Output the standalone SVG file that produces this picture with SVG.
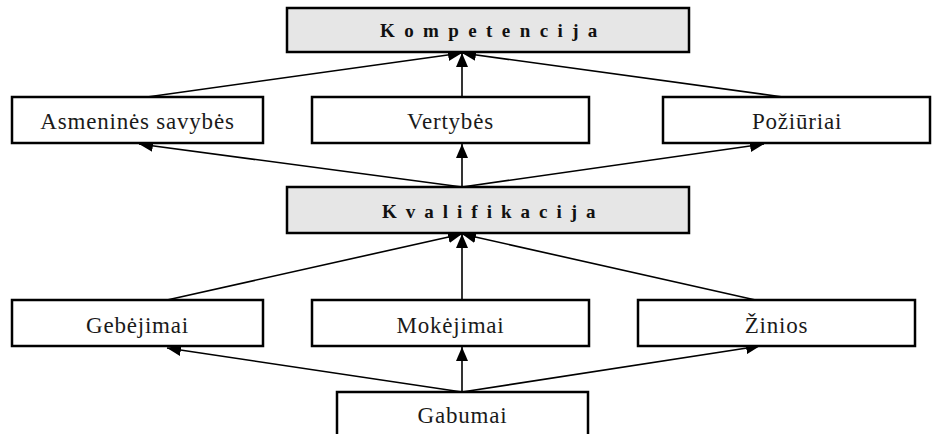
<svg xmlns="http://www.w3.org/2000/svg" width="933" height="434" viewBox="0 0 933 434">
<style>
  .box { fill: #ffffff; stroke: #000000; stroke-width: 2.5; }
  .gbox { fill: #e6e6e6; stroke: #000000; stroke-width: 2.5; }
  .lbl { font-family: "Liberation Serif", "Times New Roman", serif; font-size: 23px; fill: #1a1a1a; text-anchor: middle; letter-spacing: 0.8px; }
  .hdr { font-family: "Liberation Serif", "Times New Roman", serif; font-size: 19px; font-weight: bold; fill: #111111; }
  .conn line { stroke: #000000; stroke-width: 1.6; fill: none; marker-end: url(#arr); }
</style>
<defs>
  <marker id="arr" markerUnits="userSpaceOnUse" markerWidth="14" markerHeight="12" refX="14" refY="6" orient="auto">
    <path d="M0,0 L14,6 L0,12 z" fill="#000000"/>
  </marker>
</defs>
<rect width="933" height="434" fill="#ffffff"/>
<g class="conn" id="connectors">
  <line x1="147" y1="97" x2="462" y2="53"/>
  <line x1="462" y1="97" x2="462" y2="53"/>
  <line x1="783" y1="97" x2="462" y2="53"/>
  <line x1="462" y1="187" x2="139" y2="144"/>
  <line x1="462" y1="187" x2="462" y2="144"/>
  <line x1="462" y1="187" x2="764" y2="144"/>
  <line x1="167" y1="300" x2="462" y2="234"/>
  <line x1="462" y1="300" x2="462" y2="234"/>
  <line x1="760" y1="301" x2="462" y2="234"/>
  <line x1="462" y1="392" x2="167" y2="348"/>
  <line x1="462" y1="392" x2="462" y2="347"/>
  <line x1="462" y1="392" x2="760" y2="346"/>
</g>
<g id="kompetencija">
  <rect class="gbox" x="287" y="8" width="402" height="44"/>
  <text class="hdr" x="380" y="37" letter-spacing="9.4">Kompetencija</text>
</g>
<g id="asmenines">
  <rect class="box" x="12" y="97" width="251" height="46"/>
  <text class="lbl" x="137.5" y="129">Asmeninės savybės</text>
</g>
<g id="vertybes">
  <rect class="box" x="312" y="97" width="277" height="46"/>
  <text class="lbl" x="450.5" y="129">Vertybės</text>
</g>
<g id="poziuriai">
  <rect class="box" x="663" y="97" width="267" height="46"/>
  <text class="lbl" x="797" y="129">Požiūriai</text>
</g>
<g id="kvalifikacija">
  <rect class="gbox" x="287" y="187" width="402" height="46"/>
  <text class="hdr" x="382" y="218" letter-spacing="9">Kvalifikacija</text>
</g>
<g id="gebejimai">
  <rect class="box" x="12" y="300" width="251" height="46"/>
  <text class="lbl" x="137.5" y="333">Gebėjimai</text>
</g>
<g id="mokejimai">
  <rect class="box" x="312" y="300" width="277" height="46"/>
  <text class="lbl" x="450.5" y="333">Mokėjimai</text>
</g>
<g id="zinios">
  <rect class="box" x="638" y="300" width="277" height="46"/>
  <text class="lbl" x="776.5" y="333">Žinios</text>
</g>
<g id="gabumai">
  <rect class="box" x="337" y="392" width="251" height="60"/>
  <text class="lbl" x="462.5" y="423">Gabumai</text>
</g>
</svg>
